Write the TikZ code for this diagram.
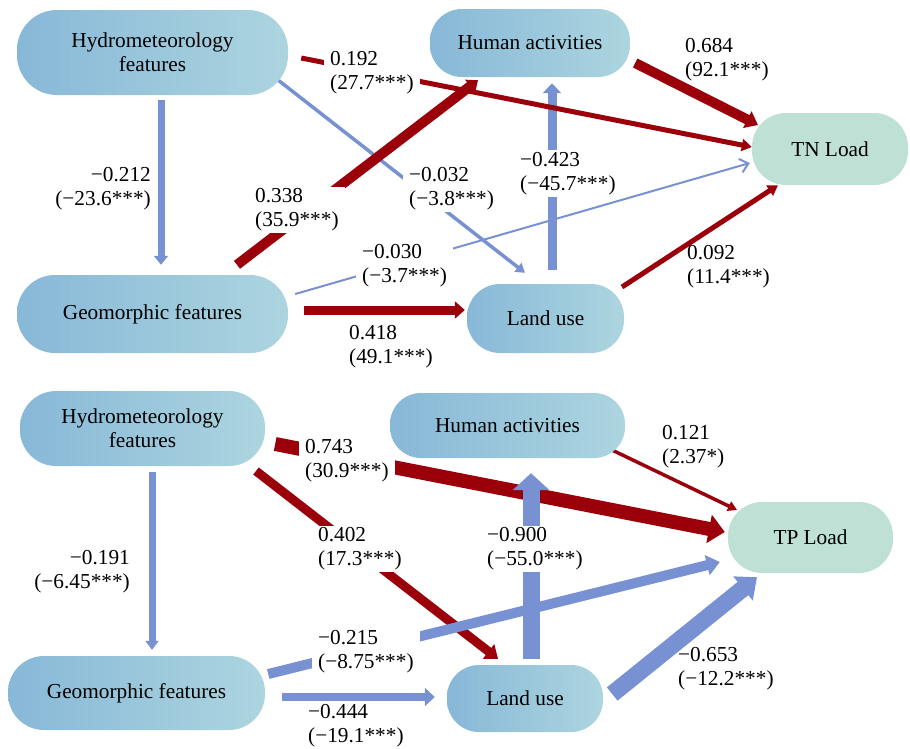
\documentclass[tikz,border=0pt]{standalone}
\usepackage{fontspec}
\setmainfont{Liberation Serif}
\usetikzlibrary{arrows.meta,calc}
\definecolor{nodeL}{RGB}{136,184,216}
\definecolor{nodeR}{RGB}{172,213,223}
\definecolor{loadC}{RGB}{190,224,213}
\definecolor{redA}{RGB}{155,0,10}
\definecolor{blueA}{RGB}{120,145,210}
\pgfdeclarelayer{bg}
\pgfsetlayers{bg,main}
\tikzset{
  txt/.style={font=\fontsize{21.3}{24}\selectfont},
  pill/.style={txt, rounded corners=#1, left color=nodeL, right color=nodeR, draw=none, align=center, inner sep=0pt},
  loadbox/.style={txt, rounded corners=#1, fill=loadC, draw=none, align=center, inner sep=0pt},
  lab/.style={txt, align=left, anchor=west, inner xsep=6pt, inner ysep=2pt},
  labw/.style={lab, fill=white},
  labr/.style={txt, align=right, anchor=east, inner xsep=6pt, inner ysep=2pt},
  ra/.style={draw=redA, line width=#1},
  ba/.style={draw=blueA, line width=#1},
  hd/.style 2 args={-{Triangle[length=#1,width=#2]}},
}
\begin{document}
\begin{tikzpicture}[x=1pt,y=-1pt]
\useasboundingbox (0,0) rectangle (910,748);
% ---------- top panel nodes
\node[pill=40pt, minimum width=271pt, minimum height=85pt] (H1) at (152.5,52.5) {Hydrometeorology\\features};
\node[pill=38pt, minimum width=271pt, minimum height=78pt] (G1) at (152.5,314) {Geomorphic features};
\node[pill=32pt, minimum width=200pt, minimum height=68pt] (HA1) at (530,43) {Human activities};
\node[loadbox=34pt, minimum width=156pt, minimum height=72pt] (TN) at (830,149) {TN Load};
\node[pill=33pt, minimum width=157pt, minimum height=69pt] (LU1) at (545.5,318.5) {Land use};
% ---------- bottom panel nodes
\node[pill=36pt, minimum width=245pt, minimum height=75pt] (H2) at (142.5,428.5) {Hydrometeorology\\features};
\node[pill=36pt, minimum width=257pt, minimum height=74pt] (G2) at (136.5,693) {Geomorphic features};
\node[pill=31pt, minimum width=235pt, minimum height=65pt] (HA2) at (507.5,425.5) {Human activities};
\node[loadbox=34pt, minimum width=165pt, minimum height=71pt] (TP) at (810.5,537.5) {TP Load};
\node[pill=32pt, minimum width=156pt, minimum height=67pt] (LU2) at (525,698.5) {Land use};

\begin{pgfonlayer}{bg}
% ---------- top panel arrows (blue under red)
\draw[ba=7pt, hd={9pt}{14pt}] ($(H1.south)+(8.5,5)$) -- ($(G1.north)+(8.5,-10)$);
\draw[ba=3.5pt, hd={9pt}{11pt}] ($(H1.center)+(125.5,27.5)$) -- ($(LU1.north)+(-20.5,-11)$);
\draw[ba=2pt, -{Straight Barb[length=8pt,width=14pt]}] ($(G1.east)+(7,-20)$) -- ($(TN.west)+(-2,14)$);
\draw[ba=9pt, hd={10pt}{18pt}] ($(LU1.north)+(6.5,-14)$) -- ($(HA1.south)+(22,6)$);
\draw[ra=5pt, hd={10pt}{12pt}] ($(H1.east)+(13,5.5)$) -- ($(TN.west)+(0,-2)$);
\draw[ra=10pt, hd={10pt}{16pt}] ($(G1.north)+(84.5,-10)$) -- ($(HA1.south)+(-52,3)$);
\draw[ra=9pt, hd={10pt}{17pt}] ($(G1.east)+(16,-4)$) -- ($(LU1.west)+(-2,-8.5)$);
\draw[ra=10pt, hd={12pt}{18pt}] ($(HA1.east)+(5,20)$) -- ($(TN.center)+(-72,-24)$);
\draw[ra=5pt, hd={10pt}{12pt}] ($(LU1.center)+(76.5,-31.5)$) -- ($(TN.south)+(-52,0)$);

% ---------- bottom panel arrows (red under blue)
\draw[ra=14pt, hd={16pt}{28pt}] ($(H2.east)+(10,15.5)$) -- ($(TP.west)+(-3,-5.5)$);
\draw[ra=9pt, hd={12pt}{18pt}] ($(H2.center)+(113.5,42.5)$) -- ($(LU2.north)+(-27,-6)$);
\draw[ra=3.5pt, hd={9pt}{10pt}] ($(HA2.center)+(104.5,24.5)$) -- ($(TP.center)+(-73.5,-27.5)$);
\draw[ba=7pt, hd={9pt}{13pt}] ($(H2.south)+(9.5,6)$) -- ($(G2.north)+(15.5,-6)$);
\draw[ba=10pt, hd={13pt}{20pt}] ($(G2.east)+(3,-19)$) -- ($(TP.west)+(-8,24.5)$);
\draw[ba=8pt, hd={10pt}{18pt}] ($(G2.east)+(17,4)$) -- ($(LU2.west)+(-12,-1.5)$);
\draw[ba=17pt, hd={17pt}{36pt}] ($(LU2.north)+(6,-6)$) -- ($(HA2.south)+(23.5,15)$);
\draw[ba=17pt, hd={18pt}{30pt}] ($(LU2.east)+(9,-4.5)$) -- ($(TP.south)+(-53.5,4)$);

% ---------- top panel labels
\node[labw] (t1) at (324,72.5) {0.192\\(27.7***)};
\node[labr] (t2) at (157,188.5) {−0.212\\(−23.6***)};
\node[labw] (t3) at (249,210) {0.338\\(35.9***)};
\node[labw] (t4) at (403,189) {−0.032\\(−3.8***)};
\node[labw] (t5) at (356,266) {−0.030\\(−3.7***)};
\node[lab]  (t6) at (343,347) {0.418\\(49.1***)};
\node[labw] (t7) at (514,173.5) {−0.423\\(−45.7***)};
\node[lab]  (t8) at (679,60) {0.684\\(92.1***)};
\node[lab]  (t9) at (681,266.5) {0.092\\(11.4***)};
% ---------- bottom panel labels
\node[labw] (u1) at (299,460.5) {0.743\\(30.9***)};
\node[labr] (u2) at (136,571.5) {−0.191\\(−6.45***)};
\node[labw] (u3) at (312,549) {0.402\\(17.3***)};
\node[labw] (u4) at (312,652) {−0.215\\(−8.75***)};
\node[lab]  (u5) at (302,725.5) {−0.444\\(−19.1***)};
\node[labw] (u6) at (481,549) {−0.900\\(−55.0***)};
\node[lab]  (u7) at (656,447) {0.121\\(2.37*)};
\node[lab]  (u8) at (672,669) {−0.653\\(−12.2***)};
\end{pgfonlayer}
\end{tikzpicture}
\end{document}
